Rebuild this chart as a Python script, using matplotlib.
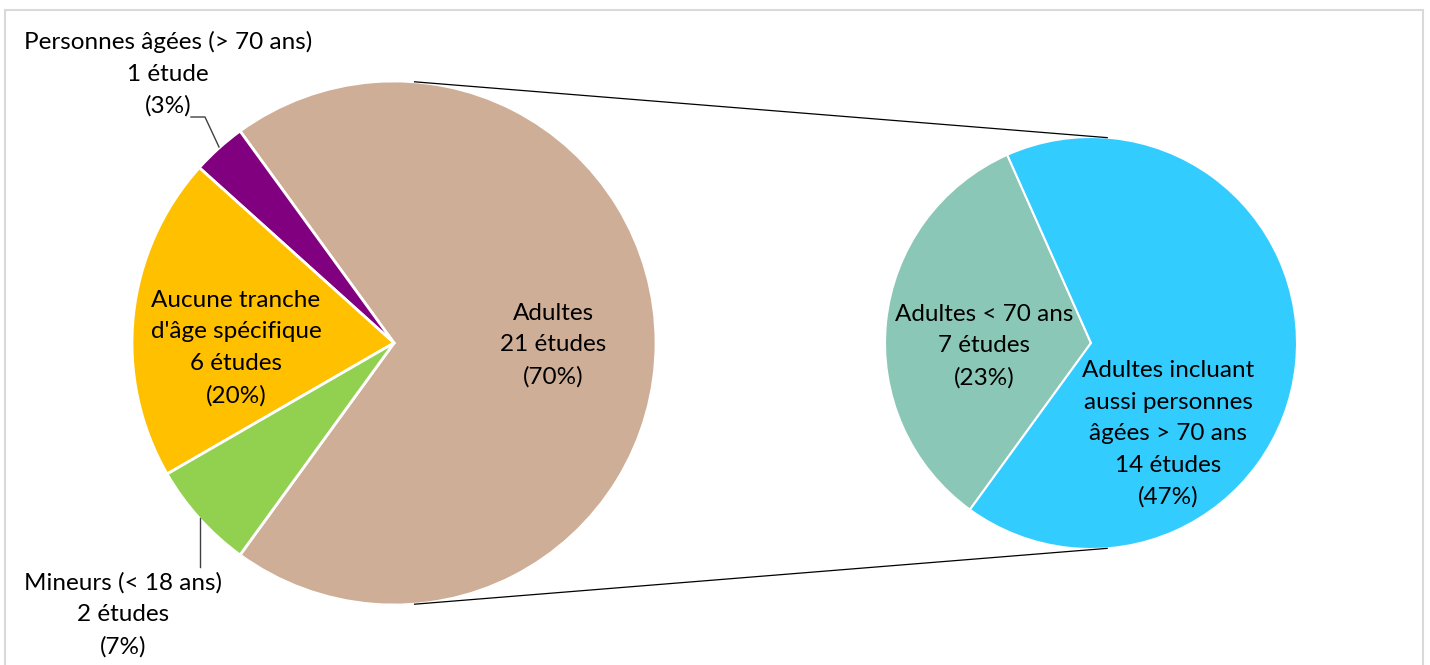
import numpy as np
import matplotlib.pyplot as plt
from matplotlib.patches import Rectangle

plt.rcParams['font.family'] = ['Lato', 'DejaVu Sans']

# main pie (number of studies)
main_labels = ["Adultes\n21 études\n(70%)",
               "Personnes âgées (> 70 ans)\n1 étude\n(3%)",
               "Aucune tranche\nd'âge spécifique\n6 études\n(20%)",
               "Mineurs (< 18 ans)\n2 études\n(7%)"]
main_values = [21, 1, 6, 2]
main_colors = ["#CFAE98", "#800080", "#FFC000", "#92D050"]

# breakdown of "Adultes"
sub_labels = ["Adultes < 70 ans\n7 études\n(23%)",
              "Adultes incluant\naussi personnes\nâgées > 70 ans\n14 études\n(47%)"]
sub_values = [7, 14]
sub_colors = ["#8AC7B7", "#33CCFF"]

W, H = 1430, 665
fig = plt.figure(figsize=(W / 100, H / 100), dpi=100)
ax = fig.add_axes([0, 0, 1, 1])

c1, r1 = (394, H - 343), 262
c2, r2 = (1091, H - 343), 206

ax.pie(main_values, colors=main_colors, startangle=-126, counterclock=True,
       center=c1, radius=r1, frame=True,
       wedgeprops=dict(edgecolor='white', linewidth=2))
ax.pie(sub_values, colors=sub_colors, startangle=114, counterclock=True,
       center=c2, radius=r2, frame=True,
       wedgeprops=dict(edgecolor='white', linewidth=1.5))
ax.set_xlim(0, W)
ax.set_ylim(0, H)
ax.set_aspect('equal')
ax.axis('off')

# connector lines between the two pies
for a in (85.5, -85.5):
    t = np.radians(a)
    ax.plot([c1[0] + r1 * np.cos(t), c2[0] + r2 * np.cos(t)],
            [c1[1] + r1 * np.sin(t), c2[1] + r2 * np.sin(t)],
            color='black', lw=0.9)

fs = 17.5
ls = 1.62
kw = dict(ha='center', va='center', fontsize=fs, linespacing=ls, color='black')
ax.text(553, H - 345, main_labels[0], **kw)
ax.text(168, H - 74, main_labels[1], **kw)
ax.text(236, H - 348, main_labels[2], **kw)
ax.text(123, H - 615, main_labels[3], **kw)
ax.text(984, H - 346, sub_labels[0], **kw)
ax.text(1168, H - 434, sub_labels[1], **kw)

# leader lines
ax.plot([191, 205, 219], [H - 117, H - 117, H - 147], color='#404040', lw=1)
ax.plot([200, 200], [H - 518, H - 567], color='#404040', lw=1)

fig.patches.append(Rectangle((5 / W, -0.05), 1418 / W, 1.05 - 10 / H,
                             transform=fig.transFigure, fill=False,
                             edgecolor='#D9D9D9', lw=1.5))

fig.savefig('out.png', dpi=100, facecolor='white')
